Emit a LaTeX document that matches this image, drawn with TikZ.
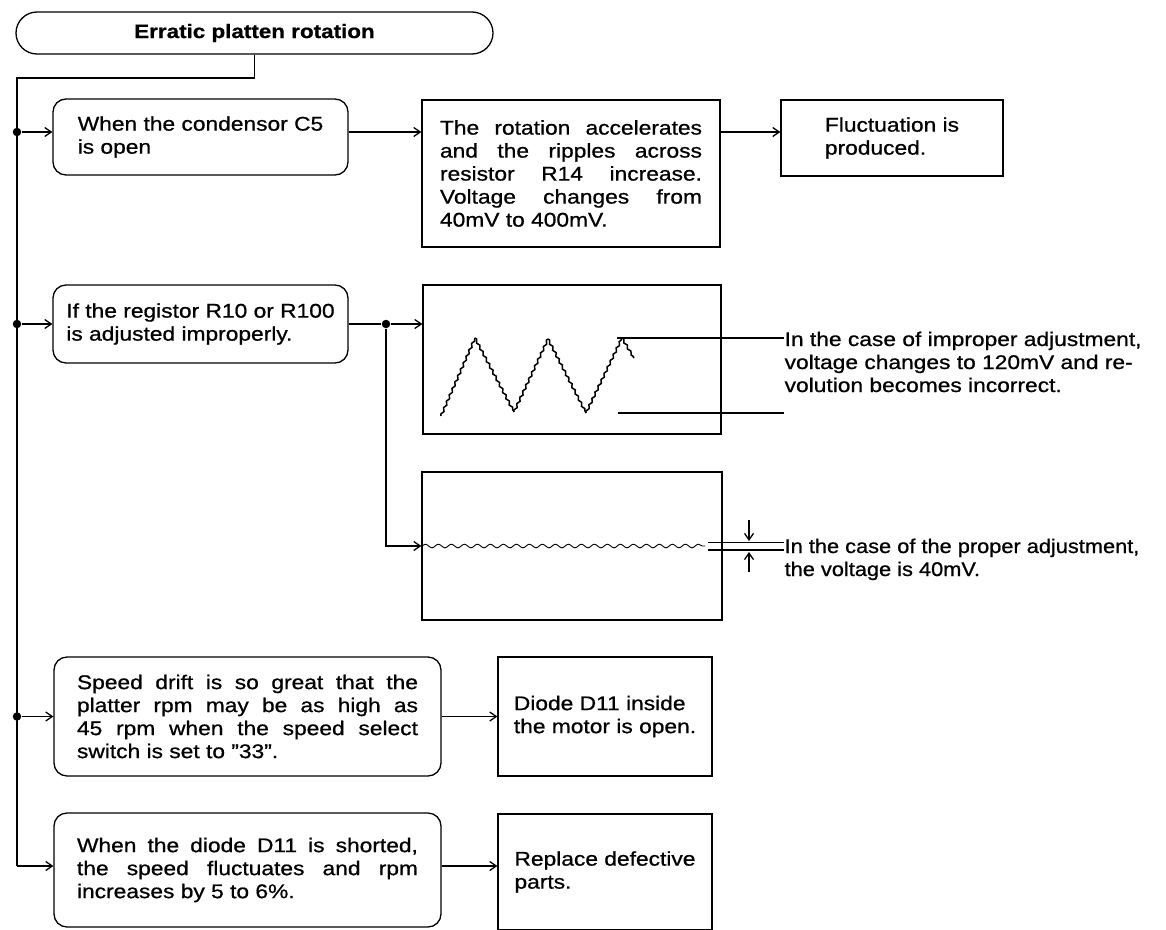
\documentclass[tikz,border=0pt]{standalone}
\usepackage{fontspec}
\setmainfont{Liberation Sans}[FakeStretch=1.15, FakeBold=0.8]
\newfontfamily\narrowsans{Liberation Sans}[FakeStretch=1.1, FakeBold=0.8]
\usetikzlibrary{arrows.meta, decorations.pathmorphing, positioning}

\begin{document}
\begin{tikzpicture}[x=1pt, y=-1pt, line width=1.3pt,
    >={Straight Barb[length=6.5pt,width=9pt]},
    every node/.style={font=\fontsize{19.8}{23}\selectfont},
    headbox/.style={draw, rounded corners=21pt, minimum width=477pt, minimum height=42pt,
      font=\bfseries\fontsize{19.5}{20}\selectfont},
    cause/.style={draw, rounded corners=13pt, minimum width=295pt, align=left},
    wide cause/.style={draw, rounded corners=13pt, minimum width=387pt, text width=341pt, align=justify},
    effect/.style={draw, align=left},
    crt/.style={draw, minimum width=298pt, minimum height=149pt},
    junction/.style={circle, fill, inner sep=0pt, minimum size=8.5pt},
    note/.style={anchor=north west, inner sep=0pt, align=left},
    trace/.style={line width=1.5pt, decorate, decoration={zigzag, segment length=7pt, amplitude=1pt}}]
    \useasboundingbox (0,0) rectangle (1166,929);
    \clip (0,0) rectangle (1166,929);

    % Define the nodes
    \node[headbox] (head) at (254.5,33) {Erratic platten rotation};
    \node[cause, minimum height=76pt] (condensor) at (200.5,137) {When the condensor C5\\is open};
    \node[effect, minimum width=298pt, minimum height=147pt, text width=262pt, align=justify] (ripple) at (571,173.5)
      {The rotation accelerates\linebreak and the ripples across\linebreak resistor R14 increase.\linebreak Voltage changes from\linebreak 40mV to 400mV.};
    \node[effect, minimum width=222pt, minimum height=76pt] (fluct) at (892,138) {Fluctuation is\\produced.};
    \node[cause, minimum height=78pt] (adjust) at (200.5,324) {If the registor R10 or R100\\is adjusted improperly.};
    \node[crt] (crtA) at (572,359.5) {};
    \node[crt, minimum width=300pt, minimum height=148pt] (crtB) at (572,546) {};
    \node[wide cause, minimum height=119pt] (drift) at (247.5,716.5)
      {Speed drift is so great that the\linebreak platter rpm may be as high as\linebreak 45 rpm when the speed select\linebreak switch is set to ''33''.};
    \node[effect, minimum width=214pt, minimum height=119pt] (diode) at (605,716.5) {Diode D11 inside\\the motor is open.};
    \node[wide cause, minimum height=114pt] (short) at (247.5,870)
      {When the diode D11 is shorted,\linebreak the speed fluctuates and rpm\linebreak increases by 5 to 6\%.};
    \node[effect, minimum width=214pt, minimum height=116pt] (replace) at (605,872) {Replace defective\\parts.};

    % junctions on the trunk
    \node[junction] (j1) at (17,132) {};
    \node[junction] (j2) at (17,324) {};
    \node[junction] (j3) at (17,716.5) {};
    \node[junction] (j4) at (386,324) {};
    \coordinate (top) at (17,78);
    \coordinate (foot) at (17,866);

    % scope traces
    \draw[trace] (441,416) -- (475,338);
    \draw[trace] (475,338) -- (514,412);
    \draw[trace] (514,412) -- (548,339);
    \draw[trace] (548,339) -- (586,413);
    \draw[trace] (586,413) -- (622,338);
    \draw[trace] (622,338) -- (634,358);
    \draw[line width=0.9pt, decorate, decoration={snake, segment length=13pt, amplitude=1.8pt}]
      (crtB.west) -- ++(284,0);

    % notes
    \node[note] (noteA) at (784,331) {In the case of improper adjustment,\\voltage changes to 120mV and re-\\volution becomes incorrect.};
    \node[note, font=\narrowsans\fontsize{19.8}{23}\selectfont] (noteB) at (784,538) {In the case of the proper adjustment,\\the voltage is 40mV.};
    \coordinate (peak) at (617,338);
    \coordinate (trough) at (618,413);
    \coordinate (hiB) at (708,542.5);
    \coordinate (loB) at (708,550);
    \draw (peak) -- (noteA.west |- peak);
    \draw (trough) -- (noteA.west |- trough);
    \draw (hiB) -- (noteB.west |- hiB);
    \draw (loB) -- (noteB.west |- loB);
    \draw[<-] (749,541) -- ++(0,-21);
    \draw[<-] (749,552) -- ++(0,20);

    % Define the transitions
    \draw (head.south) |- (top) -- (foot);
    \path[->]
    (j1) edge (condensor.west |- j1)
    (condensor.east |- j1) edge (ripple.west |- j1)
    (ripple.east |- j1) edge (fluct.west |- j1)
    (j2) edge (adjust)
    (adjust) edge[-] (j4)
    (j4) edge (crtA.west |- j4)
    (j4) edge[to path={|- (\tikztotarget)}] (crtB.west)
    (j3) edge (drift)
    (drift) edge (diode)
    (foot) edge (short.west |- foot)
    (short.east |- foot) edge (replace.west |- foot);

\end{tikzpicture}
\end{document}
